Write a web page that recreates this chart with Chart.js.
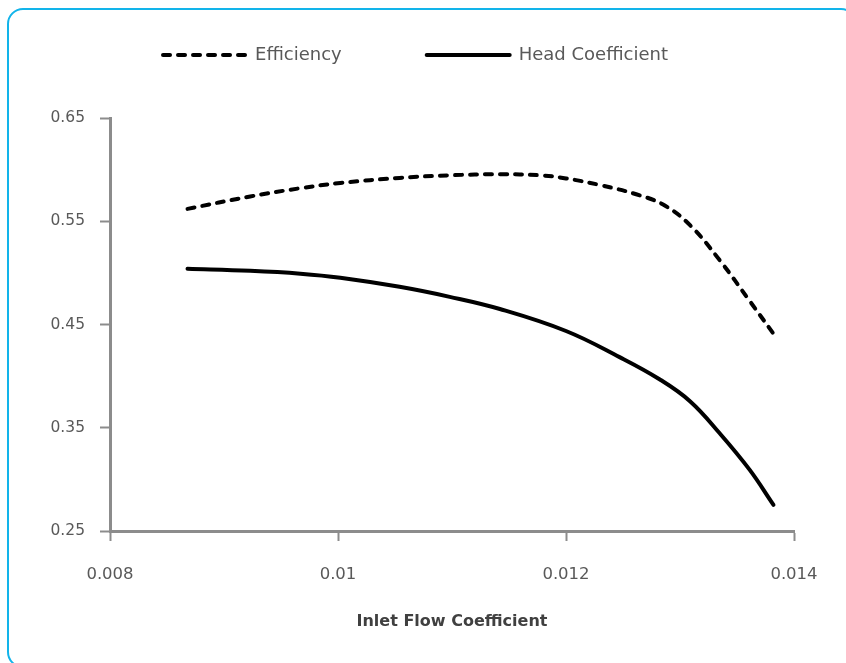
<!DOCTYPE html>
<html>
<head>
<meta charset="utf-8">
<script src="https://cdn.jsdelivr.net/npm/chart.js@4/dist/chart.umd.min.js"></script>
<style>
  html, body { margin: 0; padding: 0; background: #fff; overflow: hidden; }
  #wrap { position: relative; width: 846px; height: 663px; }
  #frame {
    position: absolute; left: 7px; top: 8px; width: 850px; height: 660px;
    border: 2.5px solid #12b4ea; border-radius: 16px; box-sizing: border-box;
    pointer-events: none;
  }
  canvas { position: absolute; left: 0; top: 0; }
</style>
</head>
<body>
<div id="wrap">
  <canvas id="chart" width="846" height="663"></canvas>
  <div id="frame"></div>
</div>
<script>
// valeurs
const flowCoef = [0.00868, 0.00923, 0.00967, 0.01002, 0.01054, 0.01098, 0.01142, 0.01177, 0.0120, 0.0123, 0.01265, 0.01287, 0.01309, 0.01335, 0.01361, 0.01382];
const efficiency = [0.562, 0.574, 0.582, 0.587, 0.592, 0.5945, 0.5955, 0.5945, 0.5915, 0.585, 0.575, 0.565, 0.546, 0.512, 0.473, 0.441];

const flowCoefHead = [0.00868, 0.00923, 0.00967, 0.01002, 0.01054, 0.01098, 0.01142, 0.0120, 0.01247, 0.01282, 0.01309, 0.01335, 0.01361, 0.01382];
const headCoef = [0.504, 0.502, 0.4992, 0.4953, 0.4865, 0.4768, 0.465, 0.4437, 0.4184, 0.397, 0.3755, 0.3444, 0.3094, 0.2753];

const xTicks = [0.008, 0.01, 0.012, 0.014];
const yTicks = [0.25, 0.35, 0.45, 0.55, 0.65];

const axisGrey = '#8c8c8c';
const font = 'DejaVu Sans';
const lineW = 4;
const dash = [7, 8];

// espace sous la legende
const legendSpacing = {
    id: 'legendSpacing',
    beforeInit(chart) {
        const fit = chart.legend.fit;
        chart.legend.fit = function () {
            fit.bind(chart.legend)();
            this.height = 157;
        };
    }
};

const ctx = document.getElementById('chart').getContext('2d');
const chart = new Chart(ctx, {
    type: 'line',
    data: {
        datasets: [{
            label: 'Efficiency',
            data: flowCoef.map((x, i) => ({x: x, y: efficiency[i]})),
            borderColor: '#000',
            backgroundColor: '#000',
            borderWidth: lineW,
            borderDash: dash,
            borderCapStyle: 'round',
            pointRadius: 0,
            tension: 0.4,
            fill: false
        }, {
            label: 'Head Coefficient',
            data: flowCoefHead.map((x, i) => ({x: x, y: headCoef[i]})),
            borderColor: '#000',
            backgroundColor: '#000',
            borderWidth: lineW,
            borderCapStyle: 'round',
            pointRadius: 0,
            tension: 0.4,
            fill: false
        }]
    },
    options: {
        responsive: false,
        animation: false,
        layout: {
            padding: {top: -39, left: 37, right: 52, bottom: 28}
        },
        plugins: {
            legend: {
                position: 'top',
                labels: {
                    usePointStyle: true,
                    pointStyle: 'line',
                    pointStyleWidth: 83,
                    padding: 85,
                    color: '#595959',
                    font: {family: font, size: 18},
                    generateLabels: (chart) => {
                        const items = Chart.defaults.plugins.legend.labels.generateLabels(chart);
                        items.forEach((item) => {
                            const ds = chart.data.datasets[item.datasetIndex];
                            item.lineDash = ds.borderDash || [];
                            item.lineCap = 'round';
                            item.lineWidth = lineW;
                            item.strokeStyle = '#000';
                        });
                        return items;
                    }
                }
            },
            tooltip: {enabled: false}
        },
        scales: {
            x: {
                type: 'linear',
                min: xTicks[0],
                max: xTicks[xTicks.length - 1],
                afterBuildTicks: (scale) => { scale.ticks = xTicks.map(v => ({value: v})); },
                ticks: {
                    padding: 24,
                    color: '#595959',
                    font: {family: font, size: 16.5},
                    callback: (v) => String(+v.toFixed(3))
                },
                grid: {drawOnChartArea: false, drawTicks: true, tickLength: 10, color: axisGrey, tickWidth: 2},
                border: {color: axisGrey, width: 3},
                title: {
                    display: true,
                    text: 'Inlet Flow Coefficient',
                    color: '#404040',
                    font: {family: font, size: 16, weight: 'bold'},
                    padding: {top: 3, bottom: 4}
                }
            },
            y: {
                type: 'linear',
                min: yTicks[0],
                max: yTicks[yTicks.length - 1],
                afterBuildTicks: (scale) => { scale.ticks = yTicks.map(v => ({value: v})); },
                afterFit: (scale) => { scale.width = 73; },
                ticks: {
                    padding: 15,
                    color: '#595959',
                    font: {family: font, size: 15.5},
                    callback: (v) => v.toFixed(2)
                },
                grid: {drawOnChartArea: false, drawTicks: true, tickLength: 10, color: axisGrey, tickWidth: 2},
                border: {color: axisGrey, width: 3}
            }
        }
    },
    plugins: [legendSpacing]
});
</script>
</body>
</html>
